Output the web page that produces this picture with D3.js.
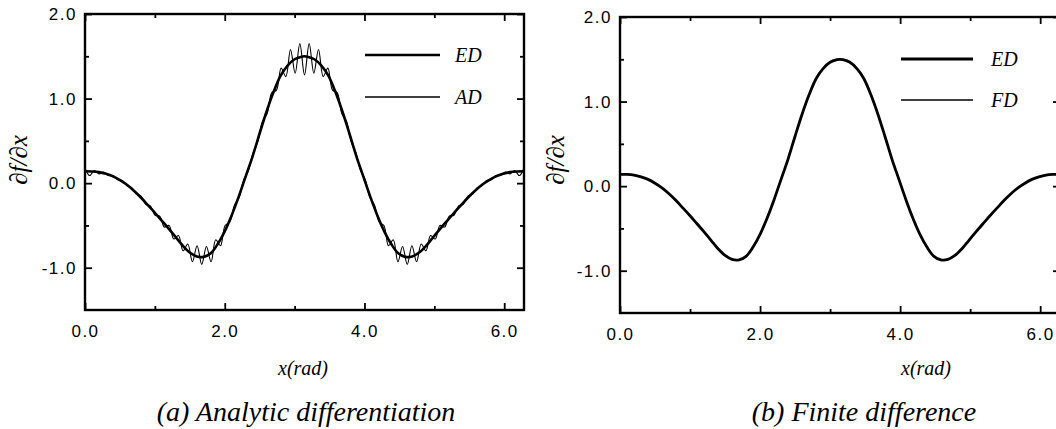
<!DOCTYPE html>
<html lang="en">
<head>
    <meta charset="UTF-8">
    <title>df/dx comparison</title>
    <script src="https://d3js.org/d3.v7.min.js"></script>
    <style>
        body { margin: 0; background: #fff; }
        .serif-label { font-family: "Liberation Serif", "Times New Roman", serif; font-style: italic; fill: #000; }
    </style>
</head>
<body>
<script>
    var w = 1056;
    var h = 429;

    // ED (exact derivative)
    var edX = [0.0, 0.1, 0.2, 0.3, 0.4, 0.5, 0.6, 0.7, 0.8, 0.9, 1.0, 1.1, 1.2, 1.3, 1.4, 1.5, 1.6, 1.7, 1.8, 1.9,
               2.0, 2.1, 2.2, 2.3, 2.4, 2.5, 2.6, 2.7, 2.8, 2.9, 3.0, 3.1, 3.1416,
               3.183, 3.283, 3.383, 3.483, 3.583, 3.683, 3.783, 3.883, 3.983, 4.083, 4.183, 4.283, 4.383, 4.483,
               4.583, 4.683, 4.783, 4.883, 4.983, 5.083, 5.183, 5.283, 5.383, 5.483, 5.583, 5.683, 5.783, 5.883,
               5.983, 6.083, 6.183, 6.283];
    var edY = [0.14, 0.138, 0.13, 0.11, 0.08, 0.035, -0.02, -0.09, -0.17, -0.26, -0.35, -0.445, -0.54, -0.64, -0.74, -0.82, -0.866, -0.872, -0.83, -0.72,
               -0.57, -0.38, -0.16, 0.08, 0.32, 0.59, 0.85, 1.08, 1.27, 1.39, 1.465, 1.495, 1.50,
               1.495, 1.465, 1.39, 1.27, 1.08, 0.85, 0.59, 0.32, 0.08, -0.16, -0.38, -0.57, -0.72, -0.83,
               -0.872, -0.866, -0.82, -0.74, -0.64, -0.54, -0.445, -0.35, -0.26, -0.17, -0.09, -0.02, 0.035, 0.08,
               0.11, 0.13, 0.138, 0.14];
    // FD (finite difference) lies on top of ED
    var fdY = [0.14, 0.138, 0.13, 0.11, 0.08, 0.035, -0.02, -0.09, -0.17, -0.26, -0.35, -0.445, -0.54, -0.64, -0.74, -0.82, -0.866, -0.872, -0.83, -0.72,
               -0.57, -0.38, -0.16, 0.08, 0.32, 0.59, 0.85, 1.08, 1.27, 1.39, 1.465, 1.495, 1.50,
               1.495, 1.465, 1.39, 1.27, 1.08, 0.85, 0.59, 0.32, 0.08, -0.16, -0.38, -0.57, -0.72, -0.83,
               -0.872, -0.866, -0.82, -0.74, -0.64, -0.54, -0.445, -0.35, -0.26, -0.17, -0.09, -0.02, 0.035, 0.08,
               0.11, 0.13, 0.138, 0.14];

    // AD (analytic differentiation) sampled at its wiggle peaks/troughs, 94 steps over [0, 2pi]
    var adSteps = 94;
    var adY = [0.18, 0.09, 0.15, 0.11, 0.13, 0.09, 0.09, 0.04, 0.03, -0.03,
               -0.055, -0.13, -0.155, -0.25, -0.27, -0.38, -0.39, -0.52, -0.50, -0.66,
               -0.62, -0.80, -0.72, -0.93, -0.74, -0.96, -0.75, -0.93, -0.67, -0.74,
               -0.50, -0.46, -0.26, -0.17, 0.04, 0.15, 0.36, 0.49, 0.73, 0.82,
               1.07, 1.10, 1.36, 1.26, 1.58, 1.30, 1.65, 1.28, 1.65, 1.30,
               1.58, 1.26, 1.36, 1.10, 1.07, 0.82, 0.73, 0.49, 0.36, 0.15,
               0.04, -0.17, -0.26, -0.46, -0.50, -0.74, -0.67, -0.93, -0.75, -0.96,
               -0.74, -0.93, -0.72, -0.80, -0.62, -0.66, -0.50, -0.52, -0.39, -0.38,
               -0.27, -0.25, -0.155, -0.13, -0.055, -0.03, 0.03, 0.04, 0.09, 0.09,
               0.13, 0.11, 0.15, 0.09, 0.18];

    var xMajor = [0, 2, 4, 6];
    var xMinor = [1, 3, 5];
    var yMajor = [-1, 0, 1, 2];
    var yMinor = [-0.5, 0.5, 1.5];

    var edData = edX.map(function (x, i) { return [x, edY[i]]; });
    var fdData = edX.map(function (x, i) { return [x, fdY[i]]; });
    var adData = adY.map(function (y, i) { return [i * 2 * Math.PI / adSteps, y]; });

    var fmt = d3.formatLocale({ decimal: ".", thousands: ",", grouping: [3], currency: ["", ""], minus: "-" }).format(".1f");

    var svg = d3.select("body").append("svg")
        .attr("width", w)
        .attr("height", h);

    function styleLabels(sel) {
        sel.selectAll("text")
            .style("font-family", "'Liberation Sans', Arial, sans-serif")
            .style("font-size", "17px")
            .style("letter-spacing", "1.5px")
            .style("fill", "#000");
    }

    function drawPanel(p) {
        var x = d3.scaleLinear().domain([0, 2 * Math.PI]).range([p.left, p.right]);
        var y = d3.scaleLinear().domain([-1.5, 2.0]).range([p.bottom, p.top]);
        var g = svg.append("g");

        // bottom axis with labels
        var bx = g.append("g").attr("transform", "translate(0," + p.bottom + ")")
            .call(d3.axisBottom(x).tickValues(xMajor).tickSize(-7).tickSizeOuter(0).tickPadding(15).tickFormat(fmt));
        styleLabels(bx);
        g.append("g").attr("transform", "translate(0," + p.bottom + ")")
            .call(d3.axisBottom(x).tickValues(xMinor).tickSize(-4).tickSizeOuter(0).tickFormat(""));
        g.append("g").attr("transform", "translate(0," + p.top + ")")
            .call(d3.axisTop(x).tickValues(xMajor).tickSize(-7).tickSizeOuter(0).tickFormat(""));
        g.append("g").attr("transform", "translate(0," + p.top + ")")
            .call(d3.axisTop(x).tickValues(xMinor).tickSize(-4).tickSizeOuter(0).tickFormat(""));

        var ly = g.append("g").attr("transform", "translate(" + p.left + ",0)")
            .call(d3.axisLeft(y).tickValues(yMajor).tickSize(-7).tickSizeOuter(0).tickPadding(8).tickFormat(fmt));
        styleLabels(ly);
        g.append("g").attr("transform", "translate(" + p.left + ",0)")
            .call(d3.axisLeft(y).tickValues(yMinor).tickSize(-4).tickSizeOuter(0).tickFormat(""));
        g.append("g").attr("transform", "translate(" + p.right + ",0)")
            .call(d3.axisRight(y).tickValues(yMajor).tickSize(-7).tickSizeOuter(0).tickFormat(""));
        g.append("g").attr("transform", "translate(" + p.right + ",0)")
            .call(d3.axisRight(y).tickValues(yMinor).tickSize(-4).tickSizeOuter(0).tickFormat(""));

        g.selectAll(".domain").remove();
        g.selectAll(".tick line").attr("stroke", "#000").attr("stroke-width", 1.8);

        g.append("rect")
            .attr("x", p.left).attr("y", p.top)
            .attr("width", p.right - p.left).attr("height", p.bottom - p.top)
            .attr("fill", "none").attr("stroke", "#000").attr("stroke-width", 2.4);

        var line = d3.line()
            .x(function (d) { return x(d[0]); })
            .y(function (d) { return y(d[1]); })
            .curve(d3.curveCatmullRom);

        p.series.forEach(function (s) {
            g.append("path")
                .datum(s.data)
                .attr("d", line)
                .attr("fill", "none")
                .attr("stroke", "#000")
                .attr("stroke-width", s.width);
        });

        // legend
        p.series.forEach(function (s, i) {
            var ly0 = p.legY[i];
            g.append("line")
                .attr("x1", p.legX1).attr("x2", p.legX2)
                .attr("y1", ly0).attr("y2", ly0)
                .attr("stroke", "#000").attr("stroke-width", s.legWidth);
            g.append("text")
                .attr("class", "serif-label")
                .attr("x", p.legTextX).attr("y", ly0 + 7)
                .attr("font-size", 20)
                .text(s.name);
        });

        g.append("text")
            .attr("class", "serif-label")
            .attr("x", p.xTitleX).attr("y", 375)
            .attr("text-anchor", "middle")
            .attr("font-size", 20)
            .text("x(rad)");

        g.append("text")
            .attr("class", "serif-label")
            .attr("transform", "translate(" + p.yTitleX + "," + 160 + ") rotate(-90)")
            .attr("text-anchor", "middle")
            .attr("font-size", 25)
            .text("\u2202f/\u2202x");

        g.append("text")
            .attr("class", "serif-label")
            .attr("x", p.capX).attr("y", 421)
            .attr("text-anchor", "middle")
            .attr("font-size", 28)
            .text(p.caption);
    }

    drawPanel({
        left: 85, right: 524, top: 14, bottom: 310,
        series: [
            { name: "ED", data: edData, width: 2.6, legWidth: 2.6 },
            { name: "AD", data: adData, width: 1.1, legWidth: 1.3 }
        ],
        legX1: 365, legX2: 440, legTextX: 455, legY: [55, 97],
        xTitleX: 303, yTitleX: 27,
        capX: 306, caption: "(a) Analytic differentiation"
    });

    drawPanel({
        left: 620, right: 1060, top: 17, bottom: 313,
        series: [
            { name: "ED", data: edData, width: 2.8, legWidth: 3 },
            { name: "FD", data: fdData, width: 1.1, legWidth: 1.3 }
        ],
        legX1: 901, legX2: 973, legTextX: 991, legY: [59, 100],
        xTitleX: 926, yTitleX: 564,
        capX: 864, caption: "(b) Finite difference"
    });
</script>
</body>
</html>
